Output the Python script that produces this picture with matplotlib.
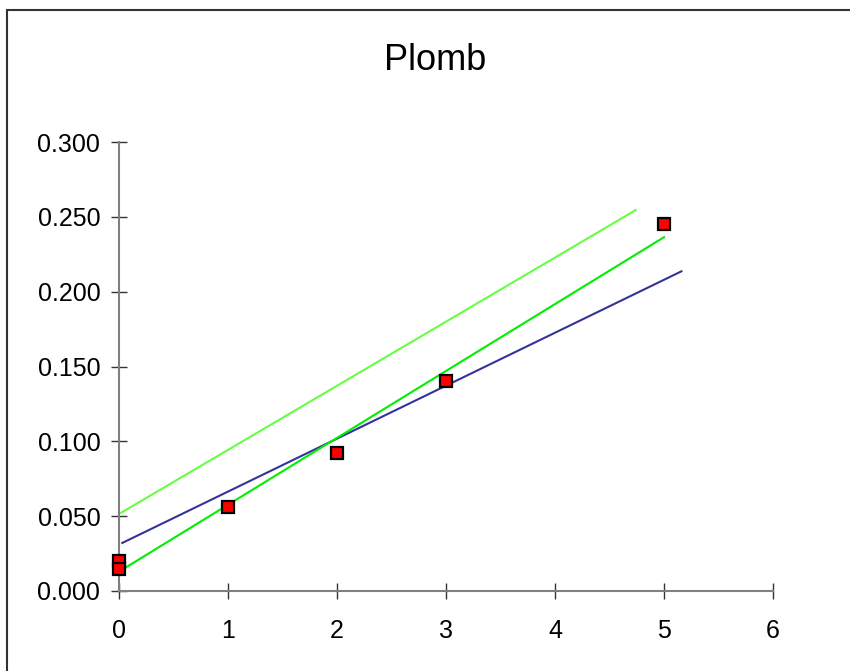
import numpy as np
import matplotlib
matplotlib.use("Agg")
from matplotlib import pyplot as plt
from matplotlib import patches

plt.rcParams['font.family'] = ['Liberation Sans', 'DejaVu Sans']

# measured points
conc = [0, 0, 1, 2, 3, 5]
absorb = [0.020, 0.015, 0.056, 0.092, 0.140, 0.245]

# fitted lines (end points)
fit_x = [0.04, 5.0]
fit_y = [0.0147, 0.2364]
upper_x = [0.02, 4.74]
upper_y = [0.0523, 0.2545]
blue_x = [0.03, 5.16]
blue_y = [0.0321, 0.2136]

xticks = [0, 1, 2, 3, 4, 5, 6]
yticks = [0.0, 0.05, 0.10, 0.15, 0.20, 0.25, 0.30]

fig = plt.figure(figsize=(8.5, 6.71), dpi=100)
ax = fig.add_axes([119/850, 1-591/671, (773-119)/850, (591-142)/671])

ax.plot(upper_x, upper_y, color='#66ff44', lw=1.5)
ax.plot(blue_x, blue_y, color='#333399', lw=1.5)
ax.plot(fit_x, fit_y, color='#00ee00', lw=1.5)
ax.plot(conc, absorb, ls='none', marker='s', ms=8.5, mfc='#ff0000',
        mec='black', mew=1.6, clip_on=False, zorder=5)

ax.set_xlim(0, 6)
ax.set_ylim(0, 0.3)
ax.set_xticks(xticks)
ax.set_yticks(yticks)
ax.set_yticklabels(['%.3f' % v for v in yticks])

for s in ['top', 'right']:
    ax.spines[s].set_visible(False)
for s in ['left', 'bottom']:
    ax.spines[s].set_color('#808080')
    ax.spines[s].set_linewidth(1.5)
ax.tick_params(direction='inout', length=11, width=1, color='#333333',
               labelsize=18, pad=8)
ax.tick_params(axis='x', pad=15)

fig.text(435/850, 1-61/671, 'Plomb', fontsize=26, ha='center', va='center')

border = patches.Rectangle((7/850, -0.1), 1.2, 1-10/671+0.1,
                           transform=fig.transFigure, fill=False,
                           edgecolor='#333333', lw=1.5)
fig.patches.append(border)

fig.savefig('out.png', dpi=100)
